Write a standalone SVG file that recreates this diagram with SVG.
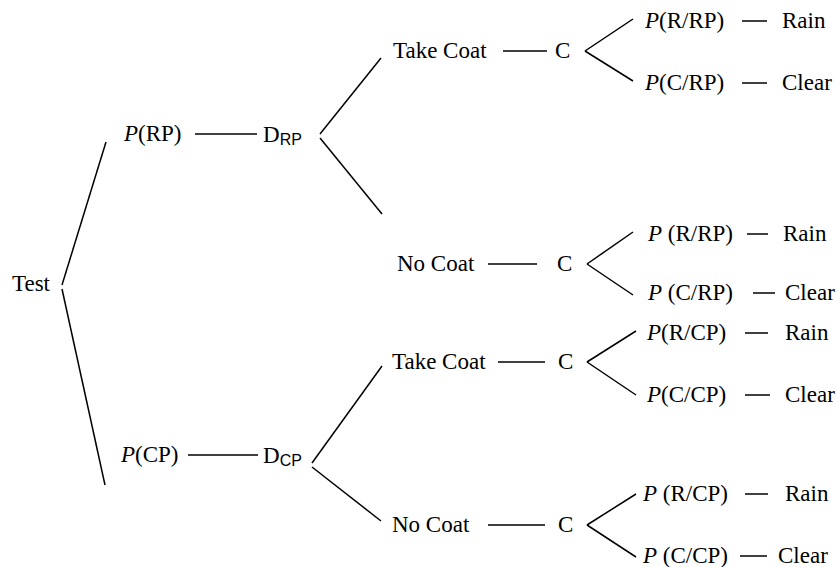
<svg xmlns="http://www.w3.org/2000/svg" width="836" height="567" viewBox="0 0 836 567">
<style>
text{font-family:"Liberation Serif","Times New Roman",serif;font-size:23px;fill:#000}
.i{font-style:italic}
.s{font-family:"Liberation Sans",Arial,sans-serif;font-size:16px}
line{stroke:#000;stroke-width:1.5;fill:none}
</style>
<rect width="836" height="567" fill="#fff"/>
<g id="connectors">
<line x1="106" y1="142" x2="62" y2="285"/>
<line x1="62" y1="289" x2="105" y2="485"/>
<line x1="195" y1="134" x2="257" y2="134"/>
<line x1="188" y1="455" x2="258" y2="455"/>
<line x1="320" y1="134" x2="381" y2="58"/>
<line x1="320" y1="138" x2="382" y2="214"/>
<line x1="312" y1="463" x2="382" y2="366"/>
<line x1="312" y1="467" x2="381" y2="521"/>
<line x1="503" y1="51" x2="547" y2="51"/>
<line x1="488" y1="264" x2="537" y2="264"/>
<line x1="498" y1="362" x2="545" y2="362"/>
<line x1="488" y1="525" x2="545" y2="525"/>
<line x1="585" y1="51" x2="633" y2="19"/>
<line x1="585" y1="51" x2="633" y2="81"/>
<line x1="587" y1="264" x2="633" y2="232"/>
<line x1="587" y1="264" x2="633" y2="295"/>
<line x1="587" y1="362" x2="636" y2="331"/>
<line x1="587" y1="362" x2="636" y2="395"/>
<line x1="587" y1="525" x2="636" y2="494"/>
<line x1="587" y1="525" x2="636" y2="557"/>
<line x1="742" y1="21" x2="767" y2="21"/>
<line x1="742" y1="83" x2="767" y2="83"/>
<line x1="747" y1="234" x2="768" y2="234"/>
<line x1="753" y1="293" x2="775" y2="293"/>
<line x1="745" y1="333" x2="768" y2="333"/>
<line x1="745" y1="395" x2="770" y2="395"/>
<line x1="745" y1="494" x2="768" y2="494"/>
<line x1="740" y1="556" x2="767" y2="556"/>
</g>
<g id="test"><text x="12" y="291">Test</text></g>
<g id="prp"><text x="124" y="141"><tspan class="i">P</tspan>(RP)</text></g>
<g id="pcp"><text x="121" y="462"><tspan class="i">P</tspan>(CP)</text></g>
<g id="drp"><text x="263" y="142">D<tspan class="s" dy="3">RP</tspan></text></g>
<g id="dcp"><text x="263" y="463">D<tspan class="s" dy="3">CP</tspan></text></g>
<g id="take1"><text x="393" y="58">Take Coat</text></g>
<g id="c1"><text x="555" y="58">C</text></g>
<g id="no1"><text x="397" y="271">No Coat</text></g>
<g id="c2"><text x="557" y="271">C</text></g>
<g id="take2"><text x="392" y="369">Take Coat</text></g>
<g id="c3"><text x="558" y="369">C</text></g>
<g id="no2"><text x="392" y="532">No Coat</text></g>
<g id="c4"><text x="558" y="532">C</text></g>
<g id="o1"><text x="645" y="28"><tspan class="i">P</tspan>(R/RP)</text><text x="782" y="28">Rain</text></g>
<g id="o2"><text x="645" y="90"><tspan class="i">P</tspan>(C/RP)</text><text x="782" y="90">Clear</text></g>
<g id="o3"><text x="648" y="241"><tspan class="i">P</tspan> (R/RP)</text><text x="783" y="241">Rain</text></g>
<g id="o4"><text x="648" y="300"><tspan class="i">P</tspan> (C/RP)</text><text x="785" y="300">Clear</text></g>
<g id="o5"><text x="647" y="340"><tspan class="i">P</tspan>(R/CP)</text><text x="785" y="340">Rain</text></g>
<g id="o6"><text x="647" y="402"><tspan class="i">P</tspan>(C/CP)</text><text x="785" y="402">Clear</text></g>
<g id="o7"><text x="643" y="501"><tspan class="i">P</tspan> (R/CP)</text><text x="785" y="501">Rain</text></g>
<g id="o8"><text x="643" y="563"><tspan class="i">P</tspan> (C/CP)</text><text x="778" y="563">Clear</text></g>
</svg>
